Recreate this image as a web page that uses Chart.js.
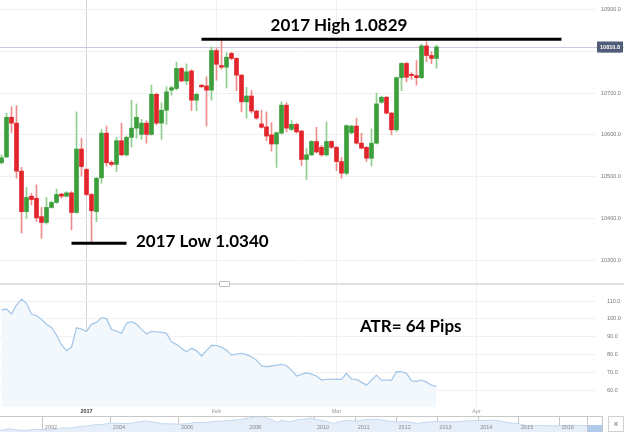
<!DOCTYPE html>
<html><head><meta charset="utf-8">
<script src="https://cdn.jsdelivr.net/npm/chart.js@4.4.1/dist/chart.umd.min.js"></script>
<style>
html,body{margin:0;padding:0;background:#fff;}
#wrap{position:relative;width:624px;height:432px;overflow:hidden;background:#fff;}
canvas{position:absolute;left:0;display:block;}
#divider{position:absolute;left:0;top:283px;width:624px;height:2px;background:#e0e0e0;}
#handle{position:absolute;left:219px;top:281px;width:11px;height:6px;background:#fff;border:1px solid #bdbdbd;border-radius:1px;box-sizing:border-box;}
#closeBox{position:absolute;left:608px;top:416px;width:16px;height:16px;border:1px solid #d0d0d0;box-sizing:border-box;font:9px 'Liberation Sans',Arial,sans-serif;color:#777;text-align:center;line-height:14px;}
</style></head>
<body><div id="wrap">
<canvas id="main" width="624" height="283" style="top:0"></canvas>
<div id="divider"></div><div id="handle"></div>
<canvas id="atr" width="624" height="131" style="top:285px"></canvas>
<canvas id="nav" width="603" height="16" style="top:416px"></canvas>
<div id="closeBox">×</div>
</div>
<script>
// ---------- data (daily candles, index 0..87) ----------
const opens  = [10533,10547,10642,10628,10513,10416,10453,10448,10404,10390,10426,10438,10458,10453,10461,10414,10566,10517,10457,10416,10497,10604,10534,10529,10586,10552,10594,10616,10601,10628,10601,10697,10628,10659,10707,10711,10759,10729,10753,10683,10719,10717,10707,10802,10766,10762,10795,10783,10743,10679,10693,10657,10626,10619,10600,10578,10604,10671,10613,10625,10609,10541,10552,10584,10570,10552,10584,10570,10536,10508,10605,10621,10580,10570,10544,10580,10678,10690,10652,10612,10737,10771,10745,10742,10737,10813,10790,10783];
const highs  = [10552,10652,10667,10670,10522,10474,10460,10480,10426,10450,10441,10470,10460,10464,10464,10655,10592,10520,10460,10498,10613,10621,10538,10594,10628,10597,10683,10674,10637,10634,10719,10700,10677,10715,10717,10774,10762,10770,10756,10700,10720,10739,10811,10808,10829,10797,10798,10785,10745,10714,10706,10659,10659,10655,10629,10607,10679,10677,10634,10628,10611,10568,10586,10618,10575,10631,10586,10572,10546,10624,10623,10640,10604,10572,10614,10700,10693,10692,10654,10739,10773,10774,10749,10778,10817,10823,10799,10815];
const lows   = [10530,10545,10605,10496,10365,10400,10432,10392,10352,10386,10424,10436,10448,10451,10372,10412,10501,10454,10340,10392,10484,10525,10525,10512,10550,10549,10571,10592,10589,10580,10599,10624,10589,10625,10695,10707,10727,10720,10658,10658,10714,10621,10683,10731,10757,10712,10779,10706,10655,10640,10652,10637,10616,10586,10561,10522,10602,10607,10610,10604,10526,10493,10550,10556,10549,10549,10567,10514,10496,10504,10602,10578,10566,10536,10525,10578,10676,10650,10600,10607,10706,10727,10733,10719,10735,10775,10770,10759];
const closes = [10545,10642,10628,10513,10416,10450,10445,10401,10390,10426,10438,10457,10453,10461,10414,10566,10524,10457,10418,10496,10604,10533,10529,10586,10552,10594,10616,10642,10628,10601,10697,10628,10659,10703,10713,10759,10729,10751,10683,10697,10715,10707,10802,10769,10762,10786,10783,10743,10679,10693,10657,10640,10618,10597,10578,10605,10671,10616,10625,10607,10541,10552,10584,10559,10552,10584,10570,10536,10508,10622,10621,10580,10568,10544,10580,10674,10690,10652,10612,10737,10771,10738,10742,10737,10813,10790,10783,10810.8];
const atrValues = [105.0,105.5,102.7,107.8,111.0,108.7,102.7,101.8,99.6,96.9,95.2,90.9,85.4,82.2,84.1,95.0,94.3,93.0,96.9,98.0,100.7,100.1,94.1,93.2,91.9,97.5,98.4,97.1,94.1,91.5,93.0,92.7,92.5,91.9,87.2,85.7,83.5,81.6,83.5,82.2,79.2,82.2,85.2,85.0,84.2,82.5,79.7,80.3,80.7,80.0,78.8,76.9,73.6,73.2,73.6,74.1,74.5,73.8,71.3,68.0,68.9,69.8,69.1,68.0,65.7,66.1,66.1,66.3,66.1,69.5,66.3,66.1,64.6,62.9,65.7,68.5,65.7,65.7,65.7,70.4,70.4,69.5,65.3,65.0,65.7,64.6,62.9,62.2];
const monthTickIdx = [17,43,67,95];
const monthLabels  = ['2017','Feb','Mar','Apr'];
const priceTicks = [10300,10400,10500,10600,10700,10800,10900];
const atrTicks   = [60,70,80,90,100,110];
const yearHigh = 10829, yearLow = 10340, atrPips = 64;
// navigator (EUR/USD history)
const navYears = [2000.75,2001.0,2001.25,2001.5,2001.75,2002.0,2002.25,2002.5,2002.75,2003.0,2003.25,2003.5,2003.75,2004.0,2004.25,2004.5,2004.75,2005.0,2005.25,2005.5,2005.75,2006.0,2006.25,2006.5,2006.75,2007.0,2007.25,2007.5,2007.75,2008.0,2008.25,2008.5,2008.6,2008.75,2008.9,2009.0,2009.25,2009.5,2009.75,2009.9,2010.0,2010.25,2010.45,2010.75,2011.0,2011.25,2011.5,2011.75,2012.0,2012.25,2012.5,2012.75,2013.0,2013.25,2013.5,2013.75,2014.0,2014.25,2014.4,2014.5,2014.75,2015.0,2015.2,2015.5,2015.75,2016.0,2016.25,2016.5,2016.67];
const navRates = [0.85,0.94,0.88,0.85,0.91,0.89,0.88,0.98,0.98,1.04,1.08,1.15,1.16,1.25,1.22,1.22,1.27,1.35,1.30,1.20,1.20,1.18,1.21,1.27,1.27,1.32,1.34,1.37,1.42,1.47,1.56,1.57,1.49,1.40,1.27,1.39,1.30,1.41,1.46,1.50,1.43,1.35,1.22,1.38,1.34,1.42,1.44,1.36,1.29,1.32,1.22,1.29,1.32,1.30,1.31,1.36,1.37,1.38,1.39,1.36,1.26,1.21,1.08,1.11,1.10,1.09,1.13,1.11,1.10];
const navYearTicks = [2002,2004,2006,2008,2010,2011,2012,2013,2014,2015,2016];
const navSelection = [2016.67, 2017.06];

// ---------- styles / layout ----------
const GREEN='#3c9f3c', RED='#e2242b', GREEN_W='#8fcf8f', RED_W='#f08c8c';
const SMALL="'Liberation Sans', Arial, sans-serif";
const BIG="bold 17px Lato, 'Open Sans', sans-serif";
const annotations = {
  high: {text:'2017 High 1.0829', x:67.5, y:10849, align:'center', lineFrom:40, lineTo:112},
  low:  {text:'2017 Low 1.0340',  x:26.9, y:10331, align:'left',   lineFrom:14, lineTo:25},
  atr:  {text:'ATR= '+atrPips+' Pips', x:71.7, y:92.8, align:'left'}
};
const up = closes.map((c,i)=>c>=opens[i]);
const xRange = {min:-0.3, max:118.7};

function fixY(w){return s=>{s.width=w;s.paddingTop=0;s.paddingBottom=0;};}
function fixX(h){return s=>{s.height=h;s.paddingLeft=0;s.paddingRight=0;};}
const monthGrid = c => (c.tick && c.tick.value===monthTickIdx[0]) ? '#d4d4d4' : '#f1f1f1';

// ---------- main candle chart ----------
const mainDeco = {
  id:'mainDeco',
  beforeDatasetsDraw(chart){
    const {ctx, chartArea:a, scales:{y}} = chart;
    const py = Math.round(y.getPixelForValue(closes[closes.length-1]))+0.5;
    ctx.save(); ctx.strokeStyle='#cbc9e2'; ctx.lineWidth=1;
    ctx.beginPath(); ctx.moveTo(a.left,py); ctx.lineTo(chart.width,py); ctx.stroke(); ctx.restore();
  },
  afterDatasetsDraw(chart){
    const {ctx, scales:{x,y}} = chart;
    ctx.save();
    ctx.strokeStyle='#000'; ctx.lineWidth=3;
    [['high',yearHigh],['low',yearLow]].forEach(([k,v])=>{
      const an=annotations[k]; const py=y.getPixelForValue(v);
      ctx.beginPath(); ctx.moveTo(x.getPixelForValue(an.lineFrom),py); ctx.lineTo(x.getPixelForValue(an.lineTo),py); ctx.stroke();
    });
    ctx.fillStyle='#000'; ctx.font=BIG; ctx.textBaseline='alphabetic';
    ['high','low'].forEach(k=>{
      const an=annotations[k]; ctx.textAlign=an.align;
      ctx.fillText(an.text, x.getPixelForValue(an.x), y.getPixelForValue(an.y));
    });
    ctx.restore();
  },
  afterDraw(chart){
    const {ctx, chartArea:a, scales:{y}} = chart;
    const last = closes[closes.length-1];
    const py = y.getPixelForValue(last);
    ctx.save();
    ctx.fillStyle='#4f5d78';
    ctx.fillRect(a.right+2, Math.round(py)-5.5, 26, 11);
    ctx.fillStyle='#fff'; ctx.font='bold 5.5px '+SMALL; ctx.textAlign='center'; ctx.textBaseline='middle';
    ctx.fillText(last.toFixed(1), a.right+15, Math.round(py)+0.5);
    ctx.restore();
  }
};

new Chart(document.getElementById('main'), {
  type:'bar',
  data:{datasets:[
    {data:lows.map((l,i)=>({x:i,y:[l,highs[i]]})), backgroundColor:up.map(u=>u?GREEN_W:RED_W), barThickness:1, grouped:false, borderWidth:0, order:2},
    {data:opens.map((o,i)=>({x:i,y:[o,closes[i]]})), backgroundColor:up.map(u=>u?GREEN:RED), barThickness:4, minBarLength:1, grouped:false, borderWidth:0, order:1}
  ]},
  options:{
    responsive:false, animation:false, devicePixelRatio:1,
    layout:{padding:0},
    plugins:{legend:{display:false}, tooltip:{enabled:false}},
    scales:{
      x:{type:'linear', min:xRange.min, max:xRange.max, offset:false,
         afterBuildTicks:s=>{s.ticks=monthTickIdx.map(v=>({value:v}));},
         afterFit:fixX(0),
         grid:{color:monthGrid, drawTicks:false, offset:false}, border:{display:false}, ticks:{display:false}},
      y:{position:'right', min:10245, max:10923,
         afterBuildTicks:s=>{s.ticks=priceTicks.map(v=>({value:v}));},
         afterFit:fixY(29),
         grid:{color:'#f0f0f0', drawTicks:false}, border:{display:false},
         ticks:{padding:6, crossAlign:'near', color:'#777', font:{family:SMALL,size:5.5}, callback:v=>v.toFixed(1)}}
    }
  },
  plugins:[mainDeco]
});

// ---------- ATR panel ----------
const atrDeco = {
  id:'atrDeco',
  afterDatasetsDraw(chart){
    const {ctx, scales:{x,y}} = chart; const an=annotations.atr;
    ctx.save(); ctx.fillStyle='#000'; ctx.font=BIG; ctx.textAlign=an.align; ctx.textBaseline='alphabetic';
    ctx.fillText(an.text, x.getPixelForValue(an.x), y.getPixelForValue(an.y)); ctx.restore();
  }
};
new Chart(document.getElementById('atr'), {
  type:'line',
  data:{datasets:[{data:atrValues.map((v,i)=>({x:i,y:v})), borderColor:'#a8c8e8', borderWidth:1.3, backgroundColor:'#f3f8fd', fill:'start', pointRadius:0, tension:0}]},
  options:{
    responsive:false, animation:false, devicePixelRatio:1,
    layout:{padding:0},
    plugins:{legend:{display:false}, tooltip:{enabled:false}},
    scales:{
      x:{type:'linear', min:xRange.min, max:xRange.max, offset:false,
         afterBuildTicks:s=>{s.ticks=monthTickIdx.map(v=>({value:v}));},
         afterFit:fixX(9),
         grid:{color:monthGrid, drawTicks:false, offset:false}, border:{display:false},
         ticks:{padding:1, maxRotation:0, autoSkip:false,
                color:c=>c.index===0?'#444':'#999',
                font:c=>({family:SMALL,size:5.5,weight:c.index===0?'bold':'normal'}),
                callback:(v,i)=>monthLabels[i]}},
      y:{position:'right', min:50.65, max:118.96,
         afterBuildTicks:s=>{s.ticks=atrTicks.map(v=>({value:v}));},
         afterFit:fixY(29),
         grid:{color:'#f0f0f0', drawTicks:false}, border:{display:false},
         ticks:{padding:12, crossAlign:'near', color:'#777', font:{family:SMALL,size:5.5}, callback:v=>v.toFixed(1)}}
    }
  },
  plugins:[atrDeco]
});

// ---------- navigator ----------
const yearToUnit = yr => yr < 2010 ? (yr-2002)*10 : 80 + (yr-2010)*12;
const navDeco = {
  id:'navDeco',
  afterDraw(chart){
    const {ctx, scales:{x}} = chart;
    ctx.save();
    const s0=x.getPixelForValue(yearToUnit(navSelection[0])), s1=x.getPixelForValue(yearToUnit(navSelection[1]));
    ctx.fillStyle='rgba(150,185,225,0.75)'; ctx.fillRect(s0, 9, s1-s0, 7);
    ctx.strokeStyle='#c8c8c8'; ctx.lineWidth=1;
    ctx.beginPath(); ctx.moveTo(0,0.5); ctx.lineTo(chart.width,0.5); ctx.stroke();
    ctx.beginPath(); ctx.moveTo(Math.round(s0)+0.5,0); ctx.lineTo(Math.round(s0)+0.5,16); ctx.moveTo(chart.width-0.5,0); ctx.lineTo(chart.width-0.5,16); ctx.stroke();
    ctx.fillStyle='#888'; ctx.font='5.5px '+SMALL; ctx.textAlign='left'; ctx.textBaseline='middle';
    navYearTicks.forEach(yr=>ctx.fillText(String(yr), x.getPixelForValue(yearToUnit(yr))+2, 11));
    ctx.restore();
  }
};
new Chart(document.getElementById('nav'), {
  type:'line',
  data:{datasets:[{data:navYears.map((yr,i)=>({x:yearToUnit(yr), y:navRates[i]})), borderColor:'#c4d9ef', borderWidth:1, backgroundColor:'#e6eff9', fill:'start', pointRadius:0, tension:0}]},
  options:{
    responsive:false, animation:false, devicePixelRatio:1,
    layout:{padding:0},
    plugins:{legend:{display:false}, tooltip:{enabled:false}},
    scales:{
      x:{type:'linear', min:-12.6, max:164.7,
         afterBuildTicks:s=>{s.ticks=navYearTicks.map(yr=>({value:yearToUnit(yr)}));},
         afterFit:fixX(0),
         grid:{color:'#c6c6c6', drawTicks:false}, border:{display:false}, ticks:{display:false}},
      y:{display:false, min:0.777, max:1.606}
    }
  },
  plugins:[navDeco]
});
</script>
</body></html>
